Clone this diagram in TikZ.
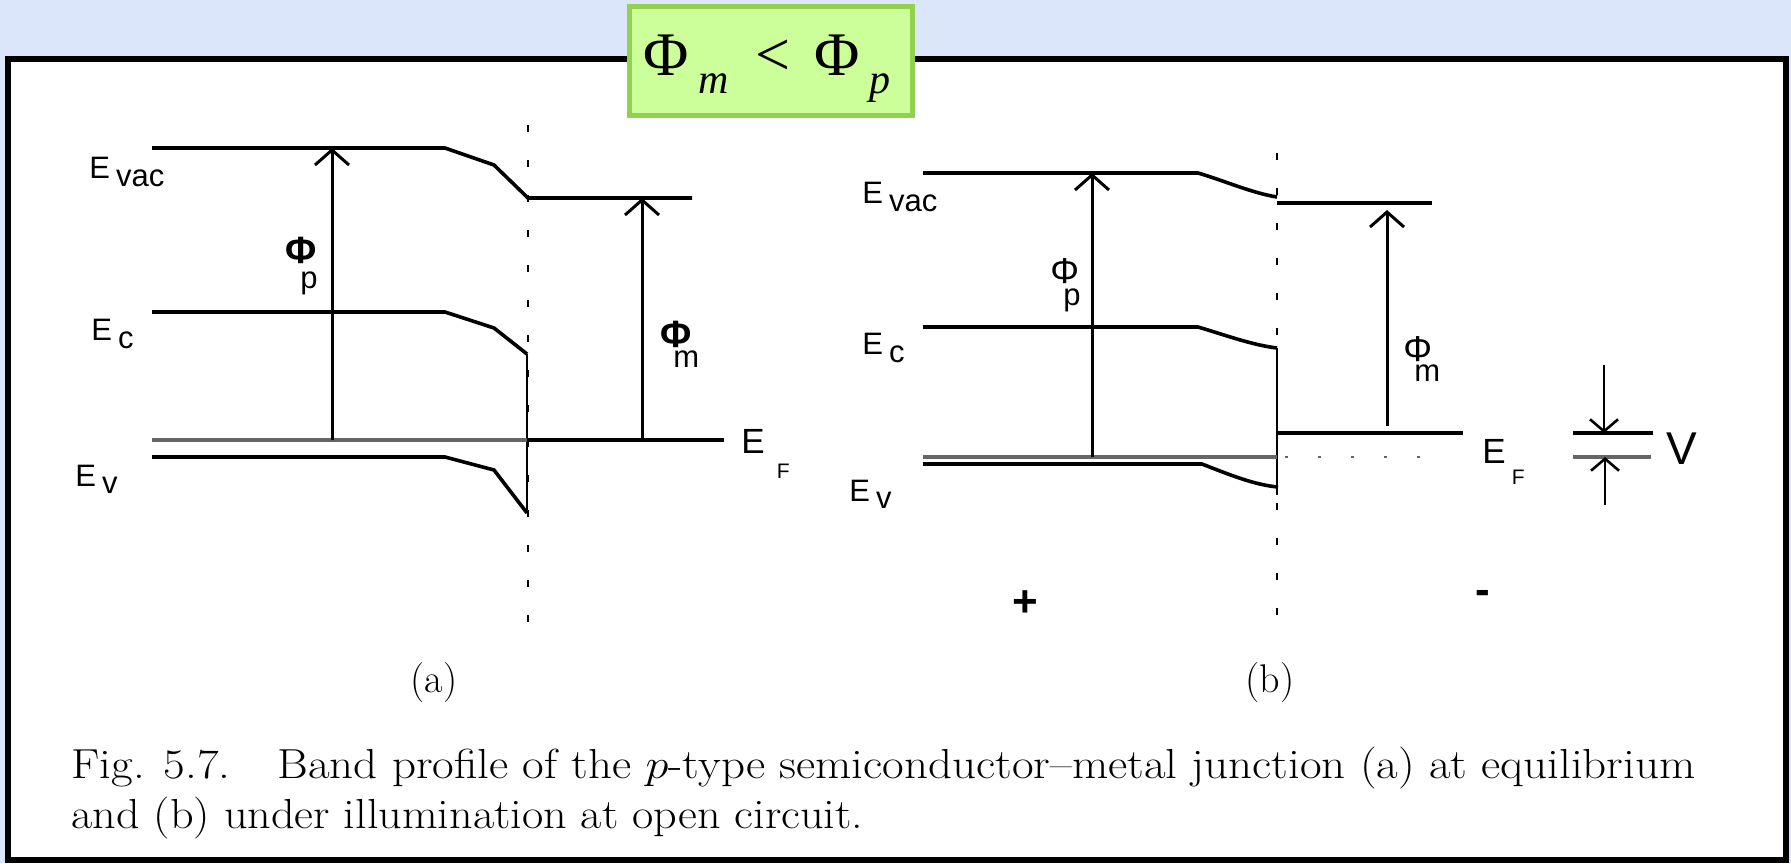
\documentclass[tikz,border=0pt]{standalone}
\usepackage{fontspec}
\newfontfamily\bandfont{Liberation Sans}
\newfontfamily\boxfont{Liberation Serif}
\usetikzlibrary{arrows.meta}
\definecolor{slidebg}{RGB}{220,230,251}
\definecolor{boxfill}{RGB}{204,255,153}
\definecolor{boxline}{RGB}{146,208,80}
\tikzset{
  band/.style={draw=black, line width=1.8pt},
  qfermi/.style={draw=black!60, line width=1.8pt},
  jline/.style={draw=black, line width=1.3pt},
  junc/.style={draw=black, line width=1pt, dash pattern=on 3.5pt off 14pt},
  mdots/.style={draw=black!60, line width=1pt, dash pattern=on 1.5pt off 15pt},
  wf/.style={draw=black, line width=1.5pt, -{Straight Barb[length=7.5pt,width=17pt]}},
  vmark/.style={draw=black, line width=1.3pt, -{Straight Barb[length=6pt,width=14pt]}},
  lvl/.style={font=\bandfont\fontsize{15.5}{17}\selectfont, inner sep=0pt, anchor=base west},
  phiA/.style={font=\bandfont\bfseries\fontsize{19}{20}\selectfont, inner sep=0pt, anchor=north west},
  phiB/.style={font=\bandfont\fontsize{18}{20}\selectfont, inner sep=0pt, anchor=north west},
  sgn/.style={font=\bandfont\bfseries\fontsize{22}{22}\selectfont, inner sep=0pt},
  capt/.style={font=\fontsize{21}{25}\selectfont, inner sep=0pt, anchor=base west},
  condbox/.style={draw=boxline, fill=boxfill, line width=2.5pt, minimum width=141.5pt, minimum height=54.5pt, inner sep=0pt},
  condtxt/.style={font=\boxfont\fontsize{31}{31}\selectfont, inner sep=0pt, anchor=base west}
}
\begin{document}
\begin{tikzpicture}[x=0.5pt, y=-0.5pt]
  \useasboundingbox (0,0) rectangle (1791,863);
  \fill[slidebg] (0,0) rectangle (1791,863);
  \draw[line width=3pt, fill=white] (8,59) rectangle (1786,860);
  \node[condbox] (cond) at (771,61) {};
  \node[condtxt] (condtxt) at (643,75) {Φ\kern5pt\raisebox{-9pt}{\fontsize{21}{21}\selectfont\itshape m}\kern13pt<\kern12pt Φ\kern5pt\raisebox{-9pt}{\fontsize{21}{21}\selectfont\itshape p}};

  \coordinate (efA) at (332,440); \coordinate (vacA) at (332,148);
  \coordinate (efmA) at (642,440); \coordinate (vacmA) at (642,198);
  \draw[band] (152,148) -- (445,148) -- (494,165) -- (528,198) -- (692,198);
  \draw[band] (152,312) -- (445,312) -- (494,328) -- (527,354);
  \draw[band] (152,457) -- (445,457) -- (494,470) -- (527,513);
  \draw[jline] (527,354) -- (527,513);
  \draw[qfermi] (152,440) -- (527,440);
  \draw[band] (527,440) -- (724,440);
  \draw[junc] (528,125) -- (528,622);
  \draw[wf] (efA) -- (vacA); \draw[wf] (efmA) -- (vacmA);
  \node[lvl] (evacA) at (89,178) {E\kern3pt\raisebox{-4pt}{vac}};
  \node[lvl] (ecA) at (91,340) {E\kern3pt\raisebox{-4pt}{c}};
  \node[lvl] (evA) at (75,486) {E\kern3pt\raisebox{-3.5pt}{v}};
  \node[lvl, font=\bandfont\fontsize{17.5}{19}\selectfont] (efermiA) at (741,453) {E\kern6pt\raisebox{-12.5pt}{\fontsize{10.5}{12}\selectfont F}};
  \node[phiA] (phipA) at (285,237) {\vbox{\offinterlineskip\hbox{Φ}\kern4pt\hbox{\kern7.5pt\mdseries\fontsize{15.5}{17}\selectfont p}}};
  \node[phiA] (phimA) at (660,321) {\vbox{\offinterlineskip\hbox{Φ}\kern1.5pt\hbox{\kern6.5pt\mdseries\fontsize{15.5}{17}\selectfont m}}};

  \coordinate (efB) at (1092,457); \coordinate (vacB) at (1092,173);
  \coordinate (efmB) at (1387,426); \coordinate (vacmB) at (1387,210);
  \draw[band] (923,173) -- (1198,173) .. controls (1225,181) and (1252,193) .. (1277,197);
  \draw[band] (1277,203) -- (1432,203);
  \draw[band] (923,327) -- (1198,327) .. controls (1225,335) and (1252,345) .. (1277,348);
  \draw[band] (923,464) -- (1202,464) .. controls (1230,475) and (1255,485) .. (1278,487);
  \draw[jline] (1277,348) -- (1277,495);
  \draw[qfermi] (923,457) -- (1277,457);
  \draw[mdots] (1285,457) -- (1450,457);
  \draw[band] (1277,433) -- (1463,433);
  \draw[junc] (1277,153) -- (1277,620);
  \draw[wf] (efB) -- (vacB); \draw[wf] (efmB) -- (vacmB);
  \node[lvl] (evacB) at (862,203) {E\kern3pt\raisebox{-4pt}{vac}};
  \node[lvl] (ecB) at (862,354) {E\kern3pt\raisebox{-4pt}{c}};
  \node[lvl] (evB) at (849,501) {E\kern3pt\raisebox{-3.5pt}{v}};
  \node[lvl, font=\bandfont\fontsize{17.5}{19}\selectfont] (efermiB) at (1482,463) {E\kern3pt\raisebox{-10.5pt}{\fontsize{10.5}{12}\selectfont F}};
  \node[phiB] (phipB) at (1050,258) {\vbox{\offinterlineskip\hbox{Φ}\kern2.5pt\hbox{\kern6.5pt\fontsize{15.5}{17}\selectfont p}}};
  \node[phiB] (phimB) at (1403,336) {\vbox{\offinterlineskip\hbox{Φ}\kern1.5pt\hbox{\kern5.5pt\fontsize{15.5}{17}\selectfont m}}};

  \coordinate (vtop) at (1604,365); \coordinate (vtopend) at (1604,433);
  \coordinate (vbot) at (1605,505); \coordinate (vbotend) at (1605,457);
  \draw[band] (1573,433) -- (1653,433);
  \draw[qfermi] (1573,457) -- (1651,457);
  \draw[vmark] (vtop) -- (vtopend); \draw[vmark] (vbot) -- (vbotend);
  \node[lvl, font=\bandfont\fontsize{23}{24}\selectfont] (vlab) at (1666,464) {V};
  \node[sgn] (plus) at (1025,604) {+};
  \node[sgn] (minus) at (1483,597) {-};

  \node[font=\fontsize{20}{25}\selectfont] (capa) at (434,683) {(a)};
  \node[font=\fontsize{20}{25}\selectfont] (capb) at (1270,683) {(b)};
  \node[capt] (cap1) at (71,778) {\scalebox{1.12}[1]{Fig. 5.7.\quad Band profile of the $p$-type semiconductor--metal junction (a) at equilibrium}};
  \node[capt] (cap2) at (71,828) {\scalebox{1.1}[1]{and (b) under illumination at open circuit.}};
\end{tikzpicture}
\end{document}
